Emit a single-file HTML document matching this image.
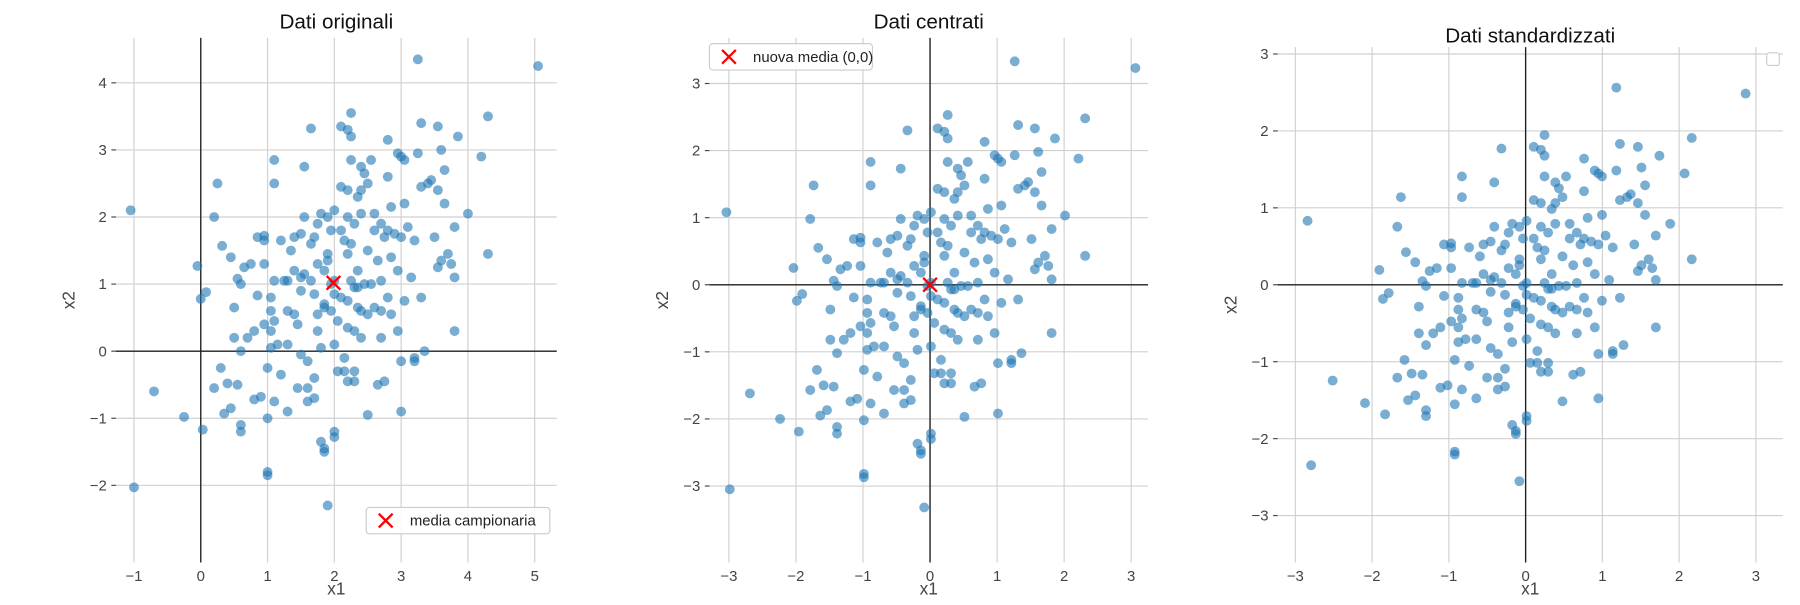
<!DOCTYPE html>
<html><head><meta charset="utf-8"><style>
body{margin:0;background:#fff;font-family:"Liberation Sans","DejaVu Sans",sans-serif}
svg text{font-family:"Liberation Sans","DejaVu Sans",sans-serif}
</style></head><body>
<svg id="fig" width="1800" height="600" viewBox="0 0 1568 522.67" preserveAspectRatio="none" xmlns="http://www.w3.org/2000/svg"></svg>
<script>
const x1Values=[-1.05,-1.0,-0.7,-0.25,-0.05,0.0,0.03,0.08,0.2,0.25,0.2,0.3,0.32,0.35,0.4,0.45,0.45,0.5,0.5,0.55,0.55,0.6,0.6,0.6,0.6,0.65,0.7,0.75,0.8,0.8,0.85,0.85,0.9,0.95,0.95,0.95,0.95,1.0,1.0,1.05,1.05,1.0,1.0,1.05,1.05,1.1,1.1,1.1,1.1,1.1,1.15,1.2,1.2,1.25,1.3,1.3,1.3,1.3,1.35,1.4,1.4,1.4,1.45,1.45,1.5,1.5,1.5,1.5,1.55,1.55,1.55,1.6,1.6,1.6,1.65,1.65,1.65,1.7,1.7,1.7,1.7,1.75,1.75,1.75,1.75,1.8,1.8,1.8,1.85,1.85,1.85,1.85,1.85,1.9,1.9,1.9,1.9,1.95,1.95,1.95,2.0,2.0,2.0,2.0,2.0,2.0,2.05,2.05,2.1,2.1,2.1,2.1,2.15,2.15,2.15,2.2,2.2,2.2,2.2,2.2,2.2,2.2,2.25,2.25,2.25,2.25,2.25,2.3,2.3,2.3,2.3,2.3,2.35,2.35,2.35,2.35,2.4,2.4,2.4,2.4,2.4,2.45,2.45,2.5,2.5,2.5,2.5,2.55,2.55,2.6,2.6,2.6,2.65,2.65,2.7,2.7,2.7,2.7,2.75,2.75,2.8,2.8,2.8,2.8,2.85,2.85,2.85,2.9,2.95,2.95,2.95,3.0,3.0,3.0,3.0,3.05,3.05,3.05,3.1,3.15,3.2,3.2,3.2,3.25,3.25,3.3,3.3,3.3,3.35,3.4,3.45,3.5,3.55,3.55,3.55,3.6,3.6,3.65,3.65,3.7,3.75,3.8,3.8,3.8,3.85,4.0,4.2,4.3,4.3,5.05];
const x2Values=[2.1,-2.03,-0.6,-0.98,1.27,0.78,-1.17,0.88,2.0,2.5,-0.55,-0.25,1.57,-0.93,-0.48,1.4,-0.85,0.65,0.2,1.08,-0.5,1.0,-1.1,-1.2,0.0,1.25,0.2,1.3,0.3,-0.72,0.83,1.7,-0.68,1.72,1.65,1.3,0.4,-0.25,-1.0,0.8,0.6,-1.8,-1.85,0.3,0.05,2.85,2.5,1.05,0.45,-0.75,0.1,1.65,-0.35,1.05,1.05,0.6,0.1,-0.9,1.5,1.7,1.2,0.55,0.4,-0.55,1.75,1.1,0.9,-0.05,2.75,2.0,1.15,-0.15,-0.75,-0.55,3.32,1.6,1.05,1.7,0.85,-0.4,-0.7,1.9,1.3,0.55,0.3,2.05,0.05,-1.35,1.2,0.7,0.65,-1.45,-1.5,2.0,1.35,1.45,-2.3,1.8,1.0,0.6,2.1,1.05,0.85,0.1,-1.2,-1.28,0.45,-0.3,3.35,2.45,1.8,0.8,-0.3,-0.1,1.65,3.3,2.4,2.0,1.45,0.75,0.35,-0.45,3.55,3.2,2.85,1.6,1.05,1.9,0.95,0.3,-0.3,-0.45,2.3,1.2,0.95,0.65,2.75,2.4,2.05,0.6,0.2,2.65,1.0,2.5,1.5,0.55,-0.95,2.85,1.0,2.05,1.8,0.65,1.35,-0.5,1.9,1.05,0.6,0.2,1.7,-0.45,3.15,2.6,1.8,0.8,2.15,1.4,0.55,1.75,2.95,1.2,0.3,2.9,1.7,-0.9,-0.15,2.85,0.75,2.2,1.85,1.1,1.65,-0.1,-0.15,4.35,2.95,3.4,2.45,0.8,0.0,2.5,2.55,1.7,3.35,1.25,2.4,3.0,1.35,2.7,2.2,1.45,1.3,1.85,1.1,0.3,3.2,2.05,2.9,3.5,1.45,4.25];
const titles=["Dati originali","Dati centrati","Dati standardizzati"];
const xTicks1=[-1,0,1,2,3,4,5], yTicks1=[-2,-1,0,1,2,3,4];
const xTicks2=[-3,-2,-1,0,1,2,3], yTicks2=[-3,-2,-1,0,1,2,3];
const xTicks3=[-3,-2,-1,0,1,2,3], yTicks3=[-3,-2,-1,0,1,2,3];

const NS="http://www.w3.org/2000/svg";
const svg=document.getElementById('fig');
function mk(tag,at,parent){const e=document.createElementNS(NS,tag);for(const k in at)e.setAttribute(k,at[k]);(parent||svg).appendChild(e);return e;}
const n=x1Values.length;
const m1=x1Values.reduce((a,b)=>a+b,0)/n, m2=x2Values.reduce((a,b)=>a+b,0)/n;
const c1=x1Values.map(v=>v-m1), c2=x2Values.map(v=>v-m2);
const s1=Math.sqrt(c1.reduce((a,b)=>a+b*b,0)/n), s2=Math.sqrt(c2.reduce((a,b)=>a+b*b,0)/n);
const z1=c1.map(v=>v/s1), z2=c2.map(v=>v/s2);

const panels=[
 {L:101,R:485,T:33,B:490,x0:-1.27,x1:5.33,y0:-3.15,y1:4.67,xs:x1Values,ys:x2Values,xt:xTicks1,yt:yTicks1,ty:25,name:'original'},
 {L:618,R:1000,T:33,B:490,x0:-3.29,x1:3.25,y0:-4.14,y1:3.68,xs:c1,ys:c2,xt:xTicks2,yt:yTicks2,ty:25,name:'centered'},
 {L:1113,R:1553,T:41,B:490,x0:-3.23,x1:3.35,y0:-3.61,y1:3.09,xs:z1,ys:z2,xt:xTicks3,yt:yTicks3,ty:37,name:'standardized'}];

panels.forEach((p,i)=>{
 const g=mk('g',{});
 
 
 const X=v=>p.L+(v-p.x0)/(p.x1-p.x0)*(p.R-p.L);
 const Y=v=>p.B-(v-p.y0)/(p.y1-p.y0)*(p.B-p.T);
 p.xt.forEach(t=>{
  const l=mk('line',{x1:X(t),x2:X(t),y1:p.T,y2:p.B,stroke:'#d0d0d0','stroke-width':1},g);
  
  const tx=mk('text',{x:X(t),y:p.B+16,'text-anchor':'middle','font-size':13,fill:'#444'},g);
  tx.textContent=t<0?'\u2212'+(-t):t;
  
 });
 p.yt.forEach(t=>{
  const l=mk('line',{x1:p.L,x2:p.R,y1:Y(t),y2:Y(t),stroke:'#d0d0d0','stroke-width':1},g);
  
  mk('line',{x1:p.L-4,x2:p.L,y1:Y(t),y2:Y(t),stroke:'#444'},g);
  const tx=mk('text',{x:p.L-8,y:Y(t)+4.5,'text-anchor':'end','font-size':13,fill:'#444'},g);
  tx.textContent=t<0?'\u2212'+(-t):t;
  
 });
 const ax=mk('line',{x1:X(0),x2:X(0),y1:p.T,y2:p.B,stroke:'#222','stroke-width':1.2},g);
 
 const ay=mk('line',{x1:p.L,x2:p.R,y1:Y(0),y2:Y(0),stroke:'#222','stroke-width':1.2},g);
 
 p.xs.forEach((v,k)=>{
  const c=mk('circle',{cx:X(v),cy:Y(p.ys[k]),r:4.3,fill:'#1f77b4','fill-opacity':0.6},g);
  
 });
 const ti=mk('text',{x:(p.L+p.R)/2,y:p.ty,'text-anchor':'middle','font-size':18,fill:'#111'},g);
 ti.textContent=titles[i];
 
 const xl=mk('text',{x:(p.L+p.R)/2,y:p.B+28,'text-anchor':'middle','font-size':15,fill:'#444'},g);
 xl.textContent='x1';
 
 const yx=p.L-36, yy=(p.T+p.B)/2;
 const yl=mk('text',{x:yx,y:yy,'text-anchor':'middle','font-size':15,fill:'#444',transform:`rotate(-90 ${yx} ${yy})`},g);
 yl.textContent='x2';
 
 p.X=X;p.Y=Y;
});
function cross(x,y,parent){
 mk('line',{x1:x-6,y1:y-6,x2:x+6,y2:y+6,stroke:'red','stroke-width':2},parent);
 mk('line',{x1:x-6,y1:y+6,x2:x+6,y2:y-6,stroke:'red','stroke-width':2},parent);
}
const mg1=mk('g',{});
cross(panels[0].X(m1),panels[0].Y(m2),mg1);
const mg2=mk('g',{});
cross(panels[1].X(0),panels[1].Y(0),mg2);
function legend(x,y,w,label,name){
 const g=mk('g',{});
 
 mk('rect',{x:x,y:y,width:w,height:23,rx:3,fill:'#fff','fill-opacity':0.85,stroke:'#ccc'},g);
 cross(x+17,y+11.5,g);
 const t=mk('text',{x:x+38,y:y+16,'font-size':13,fill:'#222'},g);t.textContent=label;
}
legend(319,442,160,'media campionaria','legend-sample-mean');
legend(618,38,142,'nuova media (0,0)','legend-new-mean');
const el=mk('rect',{x:1539,y:46,width:11,height:11,rx:2,fill:'#fff',stroke:'#ccc'});

</script>
</body></html>
